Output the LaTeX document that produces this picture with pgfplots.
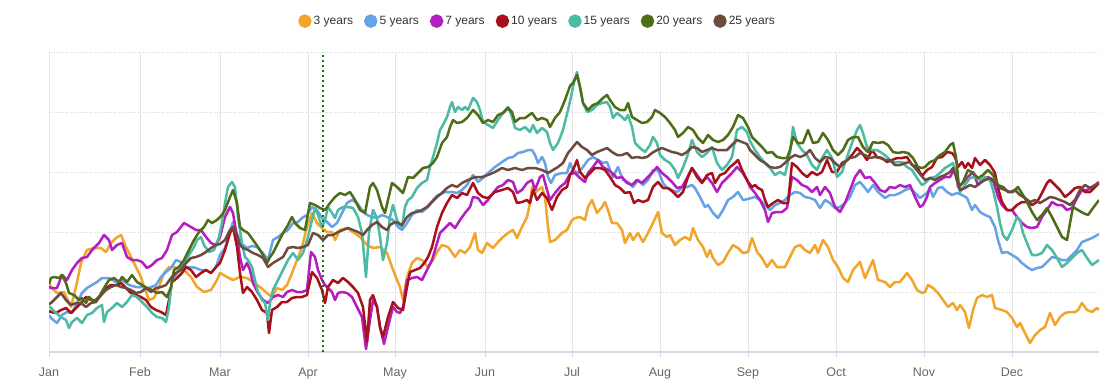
\documentclass[border=0pt]{standalone}
\usepackage{pgfplots}
\pgfplotsset{compat=1.18}
\usepackage{fontspec}
\setmainfont{Liberation Sans}
\definecolor{cA}{HTML}{F2A52B}
\definecolor{cB}{HTML}{66A2E6}
\definecolor{cC}{HTML}{B41DBE}
\definecolor{cD}{HTML}{A8111B}
\definecolor{cE}{HTML}{4DBAA3}
\definecolor{cF}{HTML}{4E6D17}
\definecolor{cG}{HTML}{6D4B3F}
\definecolor{txt}{HTML}{333333}
\definecolor{lab}{HTML}{666666}
\definecolor{gridc}{HTML}{D8D8D8}
\definecolor{vgridc}{HTML}{E6E6E6}
\definecolor{axc}{HTML}{D4DAE3}
\definecolor{vline}{HTML}{167016}
\begin{document}
\begin{tikzpicture}
\path[use as bounding box] (-49pt,-37pt) rectangle (1064pt,352pt);
\begin{axis}[
  at={(0pt,0pt)}, anchor=south west,
  scale only axis, width=1050pt, height=300pt,
  xmin=49, xmax=1099, ymin=0, ymax=300,
  xtick={49,140,220,308,395,485,572,660,748,836,924,1012},
  xticklabels={Jan,Feb,Mar,Apr,May,Jun,Jul,Aug,Sep,Oct,Nov,Dec},
  ytick={0,60,120,180,240,300}, yticklabels={},
  axis x line*=bottom, axis y line*=left,
  x axis line style={-, draw=axc, line width=1.3pt},
  y axis line style={draw=none},
  ytick style={draw=none},
  xtick style={draw=axc, line width=1pt},
  tick align=outside, major tick length=5pt,
  xmajorgrids, ymajorgrids,
  x grid style={vgridc, line width=0.8pt},
  y grid style={dotted, gridc, line width=0.9pt},
  xticklabel style={font=\fontsize{12.5}{14}\selectfont, text=lab, anchor=base, yshift=-19pt},
  no markers,
  every axis plot/.append style={line width=2.5pt, line join=round},
  legend columns=7,
  legend image code/.code={\fill[#1] (5.5pt,0pt) circle (5.5pt);},
  legend style={at={(0.2371,1.103)}, anchor=west, draw=none, fill=none, inner sep=0pt,
    font=\fontsize{12}{14}\selectfont, text=txt,
    nodes={inner xsep=2pt, inner ysep=1pt},
    /tikz/every even column/.append style={column sep=9pt}},
]
\addplot[cA] table {
49 69
51 65
57 59
64 60
71 45
76 65
81 89
87 102
94 104
101 104
106 100
111 109
116 114
121 117
126 105
131 95
136 85
141 75
144 65
149 52
154 54
159 65
164 79
169 85
174 85
184 82
191 75
197 65
204 60
211 62
217 72
220 79
227 75
233 72
240 75
247 74
253 70
260 65
267 59
272 55
277 64
282 62
287 67
292 79
297 92
302 105
307 125
312 139
317 129
322 124
327 120
332 120
335 112
340 122
347 124
353 120
360 115
367 107
373 104
380 105
387 99
392 85
397 72
400 65
403 52
407 75
412 89
417 94
422 92
428 85
433 92
437 100
442 107
448 105
455 95
460 102
465 99
470 105
475 119
478 102
482 99
487 109
493 104
498 110
503 115
508 119
513 122
517 114
522 125
527 135
530 149
532 165
535 159
538 162
542 165
545 155
548 125
550 110
555 112
562 119
567 122
572 132
575 134
580 135
585 132
588 145
592 152
597 139
602 145
605 150
608 142
612 129
617 129
622 122
625 109
630 119
633 112
638 119
643 110
648 119
653 129
658 140
662 119
667 115
670 117
675 107
680 112
685 115
690 112
693 124
698 112
703 105
707 95
710 102
713 94
718 87
723 90
728 99
733 107
738 104
743 99
748 100
752 114
757 100
762 94
767 85
772 92
777 85
782 85
785 85
790 95
795 105
800 107
805 102
810 99
815 107
818 99
823 112
828 105
833 92
838 85
843 74
848 70
853 82
860 90
865 74
873 92
878 72
885 70
890 65
895 70
900 70
907 79
912 72
917 62
922 59
925 60
928 67
933 64
938 59
943 52
948 45
953 49
957 42
960 47
965 40
969 24
973 42
977 54
982 57
987 55
992 57
995 44
1002 42
1007 40
1012 34
1017 25
1020 29
1025 19
1030 9
1035 17
1040 22
1045 25
1050 39
1055 27
1060 35
1065 39
1070 40
1075 40
1078 42
1082 49
1087 42
1092 40
1097 44
1099 42
};
\addlegendentry{3 years}
\addplot[cB] table {
49 37
51 34
57 29
62 37
67 40
72 39
77 49
82 59
87 64
92 67
97 70
102 74
109 74
116 70
122 72
129 67
136 65
142 65
149 64
156 67
161 75
166 80
171 84
176 92
181 90
186 85
191 85
196 84
201 82
206 82
211 79
216 85
220 97
225 104
230 120
233 130
237 118
242 108
247 104
252 106
257 105
263 99
268 92
273 112
278 115
283 119
288 122
293 129
298 130
302 134
307 137
312 145
317 142
322 134
327 130
332 125
337 129
342 139
347 149
352 152
357 149
362 142
367 137
372 135
377 134
382 137
387 135
393 132
398 125
402 122
407 129
412 137
417 142
422 140
428 145
433 152
438 157
445 160
452 160
457 159
462 162
467 167
473 177
478 170
483 174
488 179
495 185
502 190
508 194
513 195
518 199
523 200
528 202
532 202
535 197
538 189
542 195
545 189
548 175
551 169
555 177
562 179
567 179
570 189
573 182
578 179
583 185
588 192
593 195
598 192
603 189
607 190
610 182
613 175
618 185
623 172
628 170
633 165
638 172
643 167
648 172
653 182
658 182
663 169
667 164
672 162
677 160
682 164
687 165
692 167
695 164
700 155
705 145
708 147
713 139
718 134
723 142
728 152
733 155
738 160
743 152
748 153
755 155
760 152
765 147
770 142
775 147
780 149
785 152
790 157
795 160
800 159
805 155
810 154
815 152
820 144
825 152
830 149
835 144
840 145
845 149
850 155
855 167
860 170
865 164
868 160
873 167
878 160
885 154
890 157
895 157
900 159
905 162
910 164
915 159
920 154
927 159
930 164
933 155
938 164
942 165
947 160
952 157
957 159
962 157
967 154
972 142
975 147
980 140
985 137
990 135
995 125
998 112
1002 99
1007 100
1012 97
1017 94
1022 89
1027 85
1032 82
1037 84
1042 85
1047 90
1052 95
1057 94
1062 92
1067 92
1072 97
1077 102
1082 110
1087 112
1092 114
1099 118
};
\addlegendentry{5 years}
\addplot[cC] table {
49 65
51 64
57 64
62 77
67 72
72 82
77 89
82 94
87 95
92 102
99 109
104 117
109 112
112 102
117 107
122 109
127 95
132 92
137 92
142 90
147 84
152 87
157 92
162 94
167 102
172 117
177 120
184 129
191 125
196 122
201 122
206 115
211 109
216 107
220 115
225 135
230 145
233 139
237 115
240 95
243 82
247 89
250 82
253 69
258 59
263 52
268 49
273 55
278 57
283 55
287 60
292 62
297 60
302 60
307 62
311 100
315 95
318 82
322 72
325 67
328 64
332 60
335 52
338 59
342 60
347 59
352 55
357 45
362 35
366 3
370 32
373 52
377 45
380 25
384 8
388 25
393 45
397 40
400 39
403 45
407 72
412 74
417 75
422 72
427 82
432 92
435 102
440 119
445 124
450 129
455 124
460 132
465 139
470 145
473 155
478 154
483 147
488 152
493 159
498 165
503 167
508 172
513 170
517 159
522 162
527 169
532 172
535 162
540 175
543 177
547 162
550 152
555 159
560 165
565 169
570 178
575 179
580 174
585 170
588 179
593 185
598 192
603 185
608 182
612 179
617 174
622 175
627 169
632 167
637 172
642 169
647 174
652 179
657 185
662 179
667 175
672 170
677 164
682 165
687 174
692 184
697 177
702 170
707 175
712 169
717 160
722 169
727 174
732 179
737 185
742 180
747 172
750 165
755 159
760 152
765 142
768 130
772 139
777 140
782 140
787 144
792 175
797 172
802 167
807 165
812 160
817 165
820 157
825 165
830 159
835 145
840 140
845 149
850 162
855 175
860 182
865 174
870 175
875 169
880 162
885 160
890 165
895 164
900 167
905 165
910 167
915 155
920 145
923 147
927 155
930 165
935 169
940 172
945 175
950 175
955 184
958 165
963 169
968 175
973 180
978 167
983 172
988 175
993 172
998 155
1002 147
1007 142
1012 142
1017 135
1022 129
1027 125
1032 124
1037 125
1042 135
1047 142
1052 150
1057 147
1062 147
1067 142
1072 144
1077 154
1082 162
1087 162
1092 165
1099 169
};
\addlegendentry{7 years}
\addplot[cD] table {
49 41
51 40
56 39
61 42
66 44
71 39
76 44
81 49
86 55
91 52
96 52
101 57
106 64
111 67
116 67
121 69
126 64
131 59
136 57
141 55
146 52
151 45
156 42
161 40
166 37
169 52
172 70
177 74
182 79
186 85
191 82
196 75
201 79
206 82
211 79
216 85
220 89
225 102
230 119
233 125
237 105
240 79
243 59
247 65
252 60
257 52
262 42
267 39
269 19
272 42
277 45
282 50
287 50
292 54
297 55
302 55
307 57
312 80
317 74
322 62
325 49
328 65
333 72
338 69
343 74
348 70
353 65
358 59
363 45
367 10
370 52
373 57
377 45
380 25
383 15
388 35
393 50
398 44
403 42
407 65
410 80
415 82
420 84
425 90
428 95
432 105
437 125
442 139
447 149
452 157
457 154
462 159
467 157
473 169
478 159
483 155
488 154
495 160
502 162
508 164
513 160
517 149
522 150
527 152
530 149
533 162
537 152
542 159
547 154
552 142
557 155
562 162
567 165
570 177
573 182
577 192
580 180
585 174
590 179
595 184
600 184
605 182
610 175
615 167
620 164
625 159
630 160
634 149
638 152
643 150
648 152
653 165
658 170
663 164
668 164
673 160
678 155
683 160
688 175
692 184
697 175
702 169
707 177
712 179
715 169
720 177
725 179
730 185
735 189
738 192
742 182
745 176
748 170
752 165
755 167
758 164
762 162
765 152
768 145
773 149
778 152
783 149
788 149
792 189
797 185
802 179
807 175
812 180
817 177
822 180
827 192
832 180
837 180
842 189
847 192
852 197
857 204
862 199
867 192
872 202
877 195
882 194
887 190
892 192
897 194
902 194
907 195
912 187
917 185
922 176
927 182
932 185
937 194
942 195
947 200
952 199
955 195
958 185
962 190
965 184
968 189
972 184
975 194
980 187
985 192
990 187
995 179
998 164
1002 150
1007 142
1012 142
1017 147
1022 150
1027 150
1032 147
1037 150
1042 159
1047 169
1050 172
1055 167
1060 162
1065 155
1070 159
1075 164
1080 165
1085 160
1090 160
1095 165
1099 169
};
\addlegendentry{10 years}
\addplot[cE] table {
49 46
51 44
56 39
61 35
66 32
69 24
72 30
77 34
82 29
87 37
92 39
97 44
102 47
104 30
107 40
112 44
117 49
122 45
127 50
132 57
137 55
142 50
147 45
152 39
157 35
162 34
166 30
169 45
172 72
177 79
184 89
189 97
194 105
197 112
201 115
204 107
209 100
214 102
219 115
222 129
225 149
228 165
232 170
235 165
238 135
242 109
245 95
248 92
252 85
255 72
258 60
262 52
265 49
268 32
270 49
273 62
278 72
283 82
288 92
293 99
298 92
303 99
308 115
312 132
315 144
318 137
322 125
325 132
328 145
332 139
335 134
338 142
343 145
348 145
353 144
358 135
362 119
366 75
369 119
373 142
377 134
380 115
383 92
387 109
390 135
393 147
397 132
400 127
402 125
405 145
408 152
412 155
417 164
422 169
427 172
430 185
433 195
437 209
440 222
443 227
447 235
450 245
452 250
455 240
458 245
462 242
465 245
468 242
473 254
477 250
480 242
483 230
488 227
493 224
498 232
503 239
508 245
512 235
515 224
520 222
525 225
530 220
533 227
537 219
542 224
547 220
550 209
553 202
558 209
563 222
568 242
571 255
574 270
577 280
580 265
583 249
587 240
592 242
597 247
602 249
607 250
610 245
613 234
617 239
622 235
625 232
628 237
632 225
635 209
640 204
645 200
650 207
653 215
657 209
660 197
665 192
670 189
675 182
678 174
682 182
687 195
692 212
697 200
702 195
707 199
712 205
717 189
722 182
727 187
732 195
737 222
742 225
747 220
750 211
755 202
760 195
765 189
770 184
775 177
780 180
785 177
790 199
793 225
797 209
802 202
807 197
812 187
817 182
822 194
827 202
832 194
837 175
842 180
847 195
852 209
857 222
860 227
863 219
867 205
872 202
877 202
882 199
887 195
892 190
897 190
902 190
907 185
912 182
917 174
922 167
925 169
930 174
935 175
940 179
945 184
950 187
953 189
957 172
960 160
965 167
970 174
975 175
980 172
985 175
990 172
993 162
997 145
1000 129
1003 117
1007 112
1012 122
1017 135
1020 132
1023 119
1027 109
1032 97
1037 97
1042 99
1047 107
1052 102
1057 94
1062 85
1067 89
1072 94
1077 99
1082 102
1087 94
1092 87
1099 92
};
\addlegendentry{15 years}
\addplot[cF] table {
49 68
51 74
54 75
59 74
62 77
66 69
69 59
74 57
79 52
82 54
86 49
89 55
94 50
99 55
104 64
109 72
114 74
119 70
122 75
127 70
132 77
137 70
142 67
147 64
152 62
157 59
162 60
167 55
171 65
174 82
179 85
184 92
189 102
194 112
199 120
204 125
208 132
212 129
217 132
222 137
225 142
230 155
233 162
237 149
240 125
243 122
248 119
253 112
258 105
263 97
267 89
270 95
273 99
278 109
283 119
288 127
292 135
295 129
300 124
305 122
310 149
315 147
320 144
325 142
330 149
335 155
340 159
345 157
350 160
355 152
360 142
365 139
370 165
373 169
377 162
382 145
385 139
388 152
392 169
397 165
400 162
403 159
408 175
413 174
418 179
423 184
428 185
433 189
437 195
442 209
447 215
450 225
453 232
457 229
462 230
467 234
473 242
478 237
483 229
488 232
493 230
498 237
503 239
508 244
512 240
515 230
520 234
525 234
532 239
537 232
542 234
547 232
550 225
555 234
560 240
565 252
570 266
573 269
577 277
580 265
583 249
588 242
593 247
598 249
603 254
607 257
610 252
615 245
620 242
625 242
628 249
632 235
637 232
642 229
647 230
652 235
655 242
660 239
665 235
670 229
675 222
678 215
683 219
688 225
693 222
698 214
703 209
708 217
713 212
718 210
723 212
728 217
733 225
738 237
743 234
748 225
752 215
757 210
762 205
767 199
772 200
777 195
782 194
787 194
790 202
793 215
798 209
803 209
808 222
813 209
818 210
823 219
828 212
833 202
838 197
843 202
848 212
853 215
858 215
863 205
868 200
873 210
878 209
883 210
888 207
893 200
898 199
903 200
908 199
913 194
918 185
922 184
925 185
930 190
935 192
940 197
945 200
950 207
953 209
956 195
959 165
963 170
968 182
973 179
978 174
983 177
988 182
993 177
998 167
1003 165
1008 160
1013 160
1018 165
1023 157
1027 150
1032 140
1037 132
1042 137
1047 144
1052 135
1057 125
1062 115
1067 112
1070 129
1073 145
1078 142
1083 139
1088 137
1093 144
1099 152
};
\addlegendentry{20 years}
\addplot[cG] table {
49 48
51 49
56 54
61 59
66 52
71 47
76 49
81 49
86 45
91 49
96 50
101 57
106 62
111 65
116 67
121 65
126 64
131 62
136 59
141 60
146 64
151 60
156 64
161 65
166 67
171 74
176 79
181 82
186 89
191 94
196 95
201 97
206 100
211 104
216 107
220 108
225 112
230 122
233 125
237 117
240 107
243 104
248 102
253 99
258 97
263 94
268 85
273 89
278 92
283 95
288 104
293 105
298 104
303 105
308 107
313 119
318 117
323 112
328 117
333 117
338 120
343 122
348 124
353 122
358 120
363 117
367 122
372 127
377 130
382 125
387 122
390 127
395 130
398 129
402 127
407 135
412 139
417 140
422 142
427 145
432 150
437 155
442 159
447 164
452 167
457 165
462 169
468 172
475 175
482 175
488 177
495 180
502 184
508 182
515 184
522 182
528 184
535 184
542 182
548 179
553 182
558 185
563 189
568 199
573 205
577 210
582 205
587 202
592 197
597 200
602 202
607 204
612 200
617 197
622 197
627 199
632 194
637 195
642 194
647 195
652 199
657 202
662 204
667 202
672 200
677 199
682 197
687 200
692 205
697 204
702 200
707 202
712 204
717 202
722 202
727 202
732 207
737 212
742 210
747 208
750 202
755 197
760 192
765 189
770 185
775 184
780 185
785 189
790 194
795 197
800 195
805 197
810 202
815 194
820 190
825 195
830 194
835 189
840 185
845 190
850 194
855 195
860 199
865 197
870 194
875 195
880 194
885 192
890 192
895 187
900 187
905 189
910 190
915 184
920 178
925 172
930 174
935 172
940 175
945 177
950 180
953 184
957 172
960 162
965 164
970 167
975 165
980 169
985 172
990 174
995 169
1000 164
1005 162
1010 160
1015 162
1020 157
1025 154
1030 150
1035 152
1040 149
1045 152
1050 155
1055 154
1060 152
1065 150
1070 147
1075 152
1080 162
1085 167
1090 164
1095 167
1099 170
};
\addlegendentry{25 years}
\addplot[vline, dash pattern=on 2.5pt off 2.5pt, line width=2pt, forget plot] coordinates {(323,0) (323,300)};
\end{axis}
\end{tikzpicture}
\end{document}
